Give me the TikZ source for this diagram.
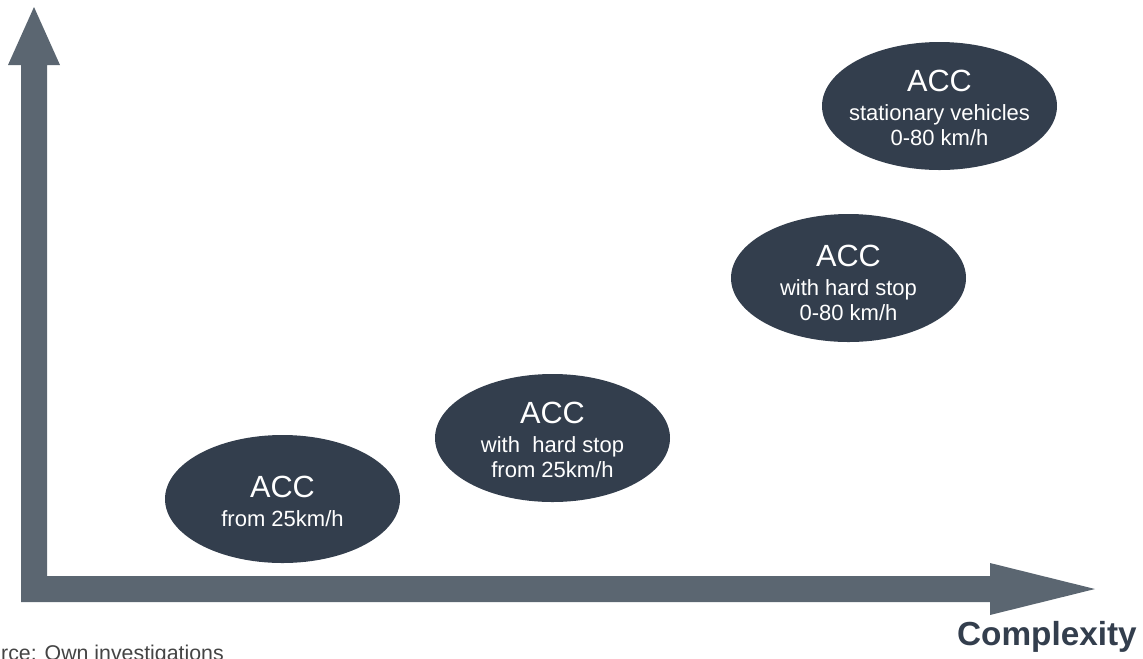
\documentclass[tikz,border=0pt]{standalone}
\usepackage{fontspec}
\setmainfont{Liberation Sans}
\usetikzlibrary{shapes.geometric}
\definecolor{axiscol}{RGB}{91,102,113}
\definecolor{ellcol}{RGB}{51,62,77}
\definecolor{srccol}{RGB}{68,68,68}
\tikzset{
  accell/.style={ellipse, fill=ellcol, draw=none, minimum width=176.25pt, minimum height=96pt, inner sep=0pt},
  acctext/.style={text=white, align=center, inner sep=0pt, font=\fontsize{16.5}{18.75}\selectfont},
}
\newcommand{\accbig}{\fontsize{23}{23}\selectfont ACC\\[3pt]\fontsize{16.5}{18.75}\selectfont}
\begin{document}
\begin{tikzpicture}[x=0.75pt,y=-0.75pt]
\useasboundingbox (0,0) rectangle (1143,658);
\clip (0,0) rectangle (1143,658);
% axes
\fill[axiscol] (21,602) -- (21,65) -- (8,65) -- (34,7) -- (60,65) -- (47,65) -- (47,576)
  -- (990,576) -- (990,563) -- (1095,589) -- (990,615) -- (990,602) -- cycle;
% ellipses
\node[accell] (e1) at (282.5,499) {};
\node[accell] (e2) at (552.5,438) {};
\node[accell] (e3) at (848.5,278) {};
\node[accell] (e4) at (939.5,106) {};
\node[acctext] (t1) at ([yshift=-1.5pt]e1.center) {\accbig from 25km/h};
\node[acctext] (t2) at ([yshift=-1.5pt]e2.center) {\accbig with\ \ hard stop\\from 25km/h};
\node[acctext] (t3) at ([yshift=-4pt]e3.center) {\accbig with hard stop\\0-80 km/h};
\node[acctext] (t4) at ([yshift=-1.5pt]e4.center) {\accbig stationary vehicles\\0-80 km/h};
% labels
\node[anchor=base east, inner sep=0pt, text=ellcol, font=\fontsize{25}{25}\selectfont\bfseries] (cx) at (1137,645) {Complexity};
\node[anchor=base west, inner sep=0pt, text=srccol, font=\fontsize{16}{18}\selectfont] (src) at (-37,660) {Source: Own investigations};
\end{tikzpicture}
\end{document}
